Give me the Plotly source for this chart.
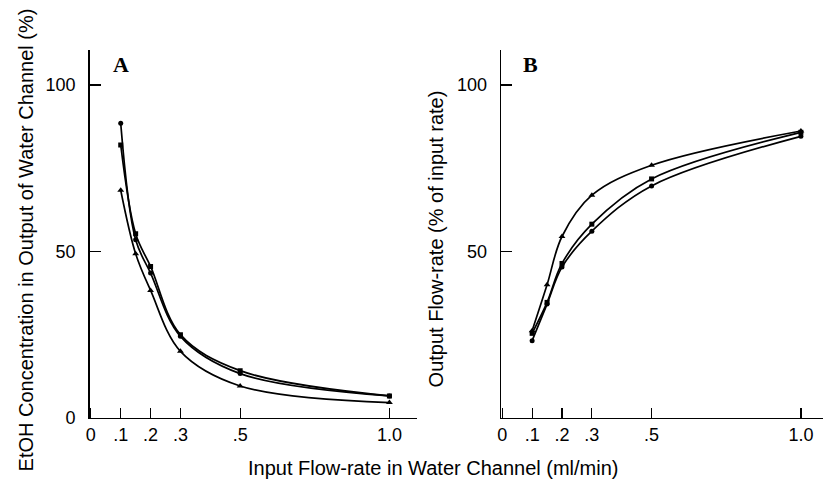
import plotly.graph_objects as go

# ---- data ----
x_vals = [0.1, 0.15, 0.2, 0.3, 0.5, 1.0]
x_tickvals = [0, 0.1, 0.2, 0.3, 0.5, 1.0]
x_ticktext = ["0", ".1", ".2", ".3", ".5", "1.0"]

# Panel A: EtOH concentration (%)
a_circles = [88.5, 53.5, 43.5, 24.5, 13.3, 6.6]
a_squares = [82.0, 55.3, 45.5, 25.0, 14.2, 6.6]
a_triangles = [68.4, 49.3, 38.3, 20.0, 9.6, 4.6]

# Panel B: output flow-rate (% of input rate)
b_triangles = [26.2, 40.0, 54.5, 66.9, 75.9, 86.2]
b_squares = [25.4, 34.7, 46.4, 58.2, 71.8, 85.8]
b_circles = [23.2, 34.2, 45.3, 56.1, 69.7, 84.6]

y_tickvals_a = [0, 50, 100]
y_tickvals_b = [50, 100]

W, H = 823, 481
H_EFF = 470  # effective rendered height observed in the photographed page
FONT = "Liberation Sans, Arial, sans-serif"

fig = go.Figure()

def add(xs, ys, sym, size, xa, ya):
    fig.add_trace(go.Scatter(
        x=xs, y=ys, mode="lines+markers",
        line=dict(color="black", width=1.7, shape="spline", smoothing=1.0),
        marker=dict(symbol=sym, size=size, color="black"),
        xaxis=xa, yaxis=ya, showlegend=False, hoverinfo="x+y"))

add(x_vals, a_circles, "circle", 5, "x", "y")
add(x_vals, a_squares, "square", 5, "x", "y")
add(x_vals, a_triangles, "triangle-up", 6, "x", "y")
add(x_vals, b_triangles, "triangle-up", 6, "x2", "y2")
add(x_vals, b_squares, "square", 5, "x2", "y2")
add(x_vals, b_circles, "circle", 5, "x2", "y2")

def px_x(p):
    return p / W

def px_y(p):
    return 1 - p / H_EFF

ydom = [px_y(417), px_y(50)]
axis_common = dict(showline=True, linecolor="black", linewidth=1.5, showgrid=False,
                   zeroline=False, ticks="inside", tickcolor="black", tickwidth=1.2,
                   tickfont=dict(family=FONT, size=18, color="black"))

fig.update_layout(
    width=W, height=H, autosize=False,
    margin=dict(l=0, r=0, t=0, b=0),
    paper_bgcolor="white", plot_bgcolor="white",
    xaxis=dict(domain=[px_x(86), px_x(415)], range=[-0.0043, 1.0923],
               tickvals=x_tickvals, ticktext=x_ticktext, ticklen=10,
               anchor="y", ticklabelstandoff=0, **axis_common),
    yaxis=dict(domain=ydom, range=[0, 110.5], tickvals=y_tickvals_a, ticklen=11,
               anchor="x", ticklabelstandoff=9, **axis_common),
    xaxis2=dict(domain=[px_x(499.5), 1.0], range=[-0.004, 1.074],
                tickvals=x_tickvals, ticktext=x_ticktext, ticklen=10,
                anchor="y2", ticklabelstandoff=0, **axis_common),
    yaxis2=dict(domain=ydom, range=[0, 110.5], tickvals=y_tickvals_b, ticklen=11,
                anchor="x2", ticklabelstandoff=9, **axis_common),
)

annots = [
    dict(text="EtOH Concentration in Output of Water Channel (%)", x=px_x(22), y=px_y(239),
         textangle=-90, font=dict(family=FONT, size=20, color="black")),
    dict(text="Output Flow-rate (% of input rate)", x=px_x(434), y=px_y(238),
         textangle=-90, font=dict(family=FONT, size=20, color="black")),
    dict(text="Input Flow-rate in Water Channel (ml/min)", x=px_x(432), y=px_y(467),
         font=dict(family=FONT, size=20, color="black")),
    dict(text="A", x=px_x(118), y=px_y(64.5),
         font=dict(family="Liberation Serif, Times New Roman, serif", size=22, color="black", weight="bold")),
    dict(text="B", x=px_x(529.5), y=px_y(64.5),
         font=dict(family="Liberation Serif, Times New Roman, serif", size=22, color="black", weight="bold")),
]
for a in annots:
    fig.add_annotation(xref="paper", yref="paper", showarrow=False,
                       xanchor="center", yanchor="middle", **a)

fig.write_html("out.html",
               config={"responsive": False, "displayModeBar": False, "staticPlot": True},
               post_script="document.body.style.margin='0px';document.body.style.overflow='hidden';")
